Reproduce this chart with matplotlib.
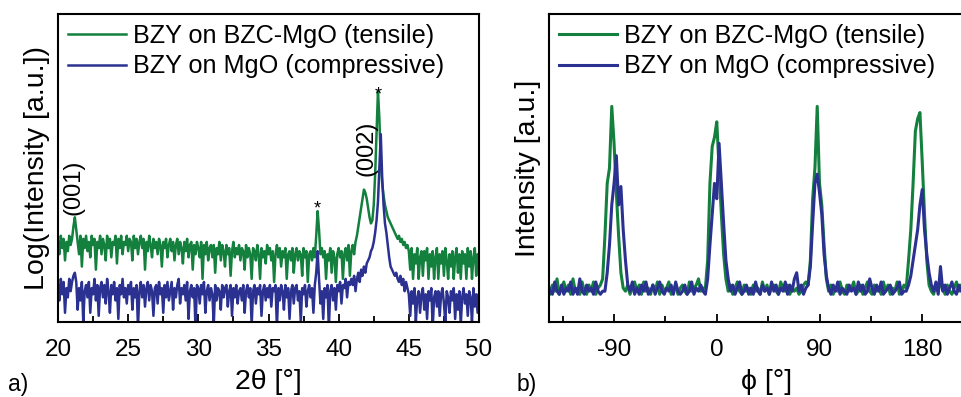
import numpy as np
import matplotlib
matplotlib.use("Agg")
import matplotlib.pyplot as plt
from matplotlib.ticker import MultipleLocator, NullLocator

plt.rcParams['font.family'] = ['Liberation Sans', 'DejaVu Sans']
plt.rcParams['axes.linewidth'] = 1.5
plt.rcParams['axes.unicode_minus'] = False

GREEN = '#13803d'
BLUE = '#2b3190'
label_tensile = 'BZY on BZC-MgO (tensile)'
label_compr = 'BZY on MgO (compressive)'

# theta-2theta scan, 20..50 deg in 0.1 deg steps, log intensity (a.u.)
tt_start, tt_stop = 20.0, 50.0
log_tensile = [
    26, 22, 28, 24, 27, 20, 26, 23, 28, 25,   # 20
    27, 31, 34, 30, 26, 22, 28, 18, 27, 24,   # 21
    28, 23, 26, 21, 28, 25, 27, 17, 26, 24,   # 22
    28, 22, 27, 25, 20, 28, 24, 27, 21, 26,   # 23
    25, 28, 19, 27, 24, 28, 22, 26, 25, 28,   # 24
    23, 27, 26, 20, 28, 24, 27, 22, 26, 28,   # 25
    24, 27, 17, 26, 23, 28, 25, 21, 27, 24,   # 26
    26, 22, 27, 25, 18, 26, 24, 27, 21, 25,   # 27
    27, 23, 26, 20, 25, 27, 22, 26, 24, 19,   # 28
    26, 23, 27, 21, 25, 26, 17, 25, 22, 26,   # 29
    24, 21, 26, 14, 25, 22, 26, 20, 24, 25,   # 30
    21, 25, 16, 24, 22, 26, 20, 25, 23, 18,   # 31
    25, 22, 24, 15, 23, 26, 21, 24, 22, 25,   # 32
    20, 24, 23, 17, 25, 21, 24, 22, 14, 24,   # 33
    23, 20, 25, 22, 14, 24, 21, 23, 19, 25,   # 34
    22, 24, 20, 23, 13, 22, 25, 21, 24, 18,   # 35
    23, 21, 24, 14, 22, 23, 20, 24, 16, 22,   # 36
    24, 20, 23, 22, 15, 24, 21, 23, 13, 22,   # 37
    23, 20, 24, 21, 28, 36, 30, 22, 24, 21,   # 38
    23, 14, 22, 20, 24, 16, 23, 21, 13, 22,   # 39
    24, 21, 23, 14, 22, 24, 20, 25, 15, 23,   # 40
    25, 22, 26, 28, 31, 34, 37, 40, 43, 42,   # 41
    40, 37, 34, 32, 33, 38, 48, 62, 75, 66,   # 42
    52, 45, 41, 38, 36, 34, 33, 32, 31, 30,   # 43
    29, 28, 27, 28, 26, 27, 25, 26, 24, 25,   # 44
    23, 17, 24, 14, 22, 19, 24, 14, 21, 23,   # 45
    15, 23, 20, 24, 14, 22, 18, 23, 14, 21,   # 46
    24, 14, 22, 19, 23, 15, 24, 20, 14, 22,   # 47
    18, 23, 14, 21, 24, 16, 22, 14, 23, 19,   # 48
    22, 14, 24, 18, 23, 14, 21, 24, 15, 22,   # 49
    20,
]
log_compr = [
    12, 7, 14, 9, 13, 3, 11, 8, 14, 10,       # 20
    13, 15, 16, 13, 4, 11, 7, 13, 0, 10,      # 21
    12, 8, 13, 3, 11, 9, 14, 7, 12, 2,        # 22
    11, 13, 8, 12, 6, 14, 10, 3, 12, 9,       # 23
    13, 7, 11, 1, 12, 9, 14, 8, 11, 6,        # 24
    12, 9, 13, 4, 11, 8, 12, -2, 10, 13,      # 25
    8, 12, 5, 11, 13, 7, 12, 10, 2, 11,       # 26
    12, 6, 13, 9, 11, 3, 12, 8, 13, 7,        # 27
    10, 13, 4, 11, 8, 12, 14, 6, 11, 9,       # 28
    12, 7, 13, 1, 10, 12, 8, 11, -2, 12,      # 29
    11, 6, 12, 9, 13, 3, 10, 12, 7, 11,       # 30
    9, -1, 12, 7, 11, 10, 4, 12, 8, 11,       # 31
    12, 5, 10, 12, 2, 11, 8, 12, 6, 10,       # 32
    11, 7, 12, 3, 10, 12, 8, 11, -1, 10,      # 33
    12, 6, 11, 9, 12, 2, 10, 12, 7, 11,       # 34
    8, 12, 5, 11, 10, 12, -2, 11, 7, 12,      # 35
    10, 4, 12, 8, 11, 1, 10, 12, 6, 11,       # 36
    12, 7, 10, 0, 11, 9, 12, 5, 10, 12,       # 37
    8, 11, 3, 12, 16, 23, 14, 6, 10, 1,       # 38
    11, 8, 12, -2, 10, 12, 7, 11, 4, 12,      # 39
    10, 13, 6, 12, 11, 14, 8, 13, 12, 14,     # 40
    12, 15, 10, 14, 16, 13, 17, 15, 18, 16,   # 41
    19, 20, 21, 23, 24, 26, 29, 33, 39, 50,   # 42
    61, 47, 38, 32, 29, 25, 21, 18, 17, 16,   # 43
    15, 16, 14, 13, 15, 12, 14, 10, 13, 11,   # 44
    9, 2, 10, 6, 11, 0, 8, 10, 3, 9,          # 45
    11, 4, 9, 1, 10, 7, 11, -2, 8, 10,        # 46
    5, 10, 2, 9, 11, 6, 0, 10, 8, 3,          # 47
    10, 7, 11, 1, 9, 4, 10, -1, 8, 11,        # 48
    6, 9, 2, 10, 8, 0, 11, 5, 9, 3,           # 49
    9,
]

# phi scan, -150..234 deg in 2 deg steps, intensity (a.u.)
phi_start, phi_step = -150.0, 2.0
phi_tensile = [
    10, 13, 9, 12, 10, 14, 9, 11, 13, 10,
    12, 9, 14, 10, 11, 9, 13, 10, 9, 12,
    10, 13, 9, 11, 12, 14, 28, 45, 50, 70,
    58, 42, 28, 16, 11, 10, 12, 9, 11, 13,
    10, 12, 9, 13, 10, 11, 9, 12, 10, 13,
    9, 12, 10, 11, 13, 9, 10, 12, 9, 11,
    12, 10, 9, 13, 10, 11, 12, 14, 10, 11,
    11, 20, 45, 57, 60, 65, 50, 35, 22, 14,
    10, 12, 9, 11, 13, 10, 9, 12, 10, 11,
    9, 12, 10, 11, 9, 13, 10, 12, 9, 11,
    12, 10, 9, 13, 11, 10, 12, 9, 11, 10,
    11, 9, 10, 12, 13, 12, 20, 40, 50, 70,
    45, 38, 25, 14, 10, 12, 9, 11, 10, 13,
    10, 9, 12, 10, 11, 13, 9, 10, 12, 9,
    11, 13, 10, 9, 12, 10, 11, 9, 13, 10,
    12, 9, 11, 10, 13, 9, 10, 12, 11, 20,
    30, 45, 62, 66, 68, 52, 35, 20, 12, 10,
    9, 12, 10, 13, 11, 9, 12, 10, 9, 11,
    13, 10, 12, 9, 11, 10, 12, 9, 13, 10,
    11, 9, 12,
]
phi_compr = [
    9, 12, 10, 9, 13, 10, 9, 12, 9, 11,
    10, 13, 9, 11, 9, 14, 10, 9, 12, 10,
    11, 9, 13, 10, 9, 10, 10, 16, 25, 38,
    45, 54, 38, 44, 30, 20, 12, 10, 13, 9,
    11, 9, 12, 10, 13, 9, 10, 12, 9, 11,
    13, 10, 9, 11, 10, 12, 9, 13, 10, 9,
    10, 12, 9, 10, 13, 9, 11, 10, 12, 10,
    9, 14, 25, 35, 45, 40, 58, 45, 32, 20,
    14, 10, 12, 9, 11, 13, 9, 10, 12, 9,
    11, 9, 13, 10, 9, 12, 10, 11, 9, 13,
    10, 12, 9, 11, 10, 13, 9, 12, 10, 14,
    16, 10, 12, 9, 11, 12, 18, 32, 45, 48,
    42, 35, 22, 15, 11, 9, 12, 10, 13, 9,
    11, 10, 9, 12, 10, 11, 9, 13, 10, 12,
    9, 10, 14, 11, 9, 12, 10, 13, 9, 10,
    11, 12, 9, 10, 11, 13, 9, 10, 10, 12,
    15, 20, 25, 30, 38, 43, 30, 22, 16, 12,
    10, 13, 9, 18, 10, 12, 9, 11, 13, 10,
    9, 12, 10, 11, 9, 13, 10, 12, 9, 11,
    12, 10, 9,
]

two_theta = np.linspace(tt_start, tt_stop, len(log_tensile))
phi = phi_start + phi_step * np.arange(len(phi_tensile))

fig = plt.figure(figsize=(9.61, 3.97), dpi=100)
ax1 = fig.add_axes([58/961, 1-322/397, 421/961, 308/397])
ax2 = fig.add_axes([549/961, 1-322/397, 436/961, 308/397])

ax1.plot(two_theta, log_tensile, color=GREEN, lw=1.8, label=label_tensile)
ax1.plot(two_theta, log_compr, color=BLUE, lw=1.8, label=label_compr)
ax2.plot(phi, phi_tensile, color=GREEN, lw=2.2, label=label_tensile)
ax2.plot(phi, phi_compr, color=BLUE, lw=2.2, label=label_compr)

ax1.set_xlim(20, 50)
ax1.set_ylim(0, 100)
ax1.xaxis.set_major_locator(MultipleLocator(5))
ax1.xaxis.set_minor_locator(MultipleLocator(2.5))

ax2.set_xlim(-147, 235)
ax2.set_ylim(0, 100)
ax2.xaxis.set_major_locator(MultipleLocator(90))
ax2.xaxis.set_minor_locator(MultipleLocator(45))
ax2.spines['right'].set_visible(False)

for ax in (ax1, ax2):
    ax.yaxis.set_major_locator(NullLocator())
    ax.tick_params(axis='x', which='major', direction='in', length=6, width=1.3,
                   labelsize=17.5, pad=12)
    ax.tick_params(axis='x', which='minor', direction='in', length=4, width=1.3)
    ax.legend(loc='upper left', bbox_to_anchor=(0.0, 1.0), frameon=False,
              fontsize=18.2, handlelength=2.3, handletextpad=0.25,
              labelspacing=0.25, borderaxespad=0.0, borderpad=0.4)

ax1.set_xlabel('2θ [°]', fontsize=20.5, labelpad=6)
ax1.set_ylabel('Log(Intensity [a.u.])', fontsize=20.5, labelpad=6)
ax2.set_xlabel('ϕ [°]', fontsize=20.5, labelpad=6)
ax2.set_ylabel('Intensity [a.u.]', fontsize=20.5, labelpad=6)

ax1.text(21.1, 43.8, '(001)', rotation=90, fontsize=17, ha='center', va='center')
ax1.text(42.0, 56.5, '(002)', rotation=90, fontsize=17, ha='center', va='center')
ax1.text(38.5, 34, '*', fontsize=13, ha='center', va='bottom')
ax1.text(42.8, 71, '*', fontsize=13, ha='center', va='bottom')

fig.text(8/961, 1-384/397, 'a)', fontsize=16.5, va='center')
fig.text(517/961, 1-384/397, 'b)', fontsize=16.5, va='center')

fig.savefig('out.png', dpi=100)
